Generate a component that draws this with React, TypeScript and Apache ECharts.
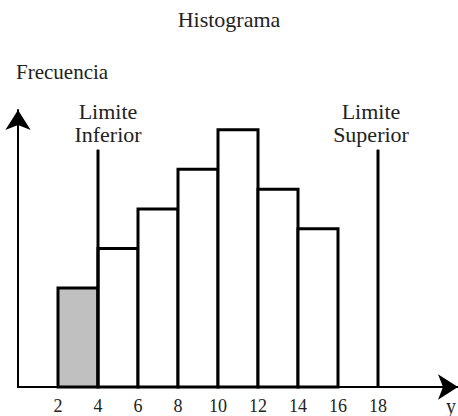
import React, { useEffect, useRef } from "react";
import * as echarts from "echarts";

const binStarts = [2, 4, 6, 8, 10, 12, 14];
const binEnds = [4, 6, 8, 10, 12, 14, 16];
const frequencies = [5, 7, 9, 11, 13, 10, 8];
const xTickLabels = ["2", "4", "6", "8", "10", "12", "14", "16", "18"];
const limitPositions = [4, 18];
const limitHeights = [12, 12];
const limitLabels = ["Limite\nInferior", "Limite\nSuperior"];
const highlightedBin = 0;
const limitLabelShift = [10, -7];

const FONT = "'Liberation Serif', 'Times New Roman', serif";

export default function App() {
  const ref = useRef<HTMLDivElement>(null);
  useEffect(() => {
    if (!ref.current) return;
    const chart = echarts.init(ref.current, null, { renderer: "svg" });
    const binData = binStarts.map((s, i) => [s, binEnds[i], frequencies[i]]);
    const limitData = limitPositions.map((x, i) => ({ value: [x, limitHeights[i]], name: limitLabels[i] }));
    chart.setOption({
      animation: false,
      backgroundColor: "#fff",
      title: {
        text: "Histograma",
        left: "center",
        top: 3,
        textStyle: { fontFamily: FONT, fontWeight: "normal", fontSize: 22, color: "#222" },
      },
      graphic: [
        { type: "text", left: 16, top: 61, style: { text: "Frecuencia", font: `21px ${FONT}`, fill: "#222" } },
        { type: "text", left: 446, top: 396, style: { text: "y", font: `20px ${FONT}`, fill: "#222" } },
      ],
      grid: { left: 18, right: 0, top: 110, bottom: 29, containLabel: false, outerBoundsMode: "none" },
      xAxis: {
        type: "value",
        min: 0,
        max: 22,
        interval: 2,
        splitLine: { show: false },
        axisTick: { show: false },
        axisLine: { lineStyle: { color: "#000", width: 2 }, symbol: ["none", "arrow"], symbolSize: [19, 20] },
        axisLabel: {
          margin: 10,
          fontFamily: FONT,
          fontSize: 18,
          color: "#222",
          formatter: (v: number) => (xTickLabels.includes(String(v)) ? String(v) : ""),
        },
      },
      yAxis: {
        type: "value",
        min: 0,
        max: 14,
        splitLine: { show: false },
        axisTick: { show: false },
        axisLabel: { show: false },
        axisLine: { show: true, lineStyle: { color: "#000", width: 2 }, symbol: ["none", "arrow"], symbolSize: [19, 20] },
      },
      series: [
        {
          type: "custom",
          data: binData,
          renderItem: (params: any, api: any) => {
            const p0 = api.coord([api.value(0), api.value(2)]);
            const p1 = api.coord([api.value(1), 0]);
            return {
              type: "rect",
              shape: { x: p0[0], y: p0[1], width: p1[0] - p0[0], height: p1[1] - p0[1] },
              style: {
                fill: params.dataIndex === highlightedBin ? "#c0c0c0" : "#fff",
                stroke: "#000",
                lineWidth: 3,
              },
            };
          },
        },
        {
          type: "custom",
          data: limitData,
          renderItem: (params: any, api: any) => {
            const top = api.coord([api.value(0), api.value(1)]);
            const bottom = api.coord([api.value(0), 0]);
            return {
              type: "group",
              children: [
                {
                  type: "line",
                  shape: { x1: top[0], y1: top[1], x2: bottom[0], y2: bottom[1] },
                  style: { stroke: "#000", lineWidth: 3 },
                },
                {
                  type: "text",
                  x: top[0] + limitLabelShift[params.dataIndex],
                  y: top[1] - 4,
                  style: {
                    text: limitLabels[params.dataIndex],
                    font: `22px ${FONT}`,
                    lineHeight: 23,
                    fill: "#222",
                    align: "center",
                    verticalAlign: "bottom",
                  },
                },
              ],
            };
          },
        },
      ],
    });
    return () => chart.dispose();
  }, []);
  return <div ref={ref} style={{ position: "fixed", left: 0, top: 0, width: 458, height: 416 }} />;
}
